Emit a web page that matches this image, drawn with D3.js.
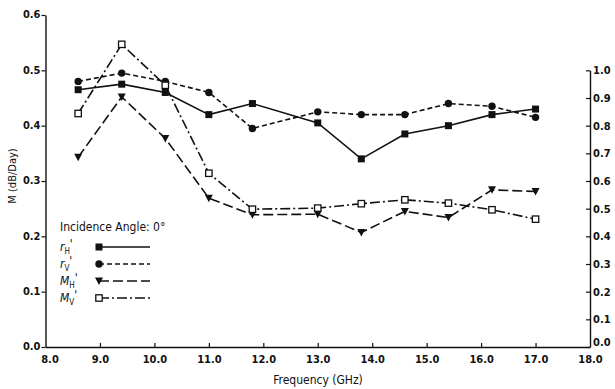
<!DOCTYPE html>
<html>
<head>
<meta charset="utf-8">
<script src="https://cdn.jsdelivr.net/npm/d3@7"></script>
<style>
  body { margin: 0; background: #fff; }
  svg text { fill: #111; }
  .tick text { font-family: "DejaVu Sans Condensed", "DejaVu Sans", sans-serif; font-weight: bold; font-size: 11px; }
</style>
</head>
<body>
<script>
// frequencies (GHz) where measurements were taken
var freq = [8.6, 9.4, 10.2, 11.0, 11.8, 13.0, 13.8, 14.6, 15.4, 16.2, 17.0];
// r' values, read on the right axis
var rH = [0.93, 0.95, 0.92, 0.84, 0.88, 0.81, 0.68, 0.77, 0.80, 0.84, 0.86];
var rV = [0.96, 0.99, 0.96, 0.92, 0.79, 0.85, 0.84, 0.84, 0.88, 0.87, 0.83];
// M' values (dB/Day), read on the left axis
var mH = [0.343, 0.452, 0.377, 0.269, 0.239, 0.240, 0.207, 0.245, 0.234, 0.284, 0.281];
var mV = [0.422, 0.547, 0.473, 0.314, 0.249, 0.251, 0.259, 0.266, 0.260, 0.248, 0.231];

var xTicks = [8, 9, 10, 11, 12, 13, 14, 15, 16, 17, 18];
var yTicks = [0, 0.1, 0.2, 0.3, 0.4, 0.5, 0.6];
var rTicks = [0, 0.1, 0.2, 0.3, 0.4, 0.5, 0.6, 0.7, 0.8, 0.9, 1.0];

var width = 615, height = 389;

var svg = d3.select("body").append("svg")
    .attr("width", width)
    .attr("height", height);

svg.append("rect").attr("width", width).attr("height", height).attr("fill", "#fff");

var x = d3.scaleLinear().domain([8, 18]).range([45.5, 590]);
var y = d3.scaleLinear().domain([0, 0.6]).range([347, 15]);
// right axis: 1.0 lines up with 0.5 on the left
var yR = d3.scaleLinear().domain([0, 1]).range([y(0), y(0.5)]);

var fmt = d3.format(".1f");

// left axis
var gl = svg.append("g").attr("transform", "translate(" + x(8) + ",0)")
    .call(d3.axisLeft(y).tickValues(yTicks).tickFormat(fmt).tickSize(4).tickSizeOuter(0).tickPadding(1));
gl.selectAll(".tick text").attr("dy", "0.25em");

// bottom axis
var gb = svg.append("g").attr("transform", "translate(0," + y(0) + ")")
    .call(d3.axisBottom(x).tickValues(xTicks).tickFormat(fmt).tickSize(-4).tickSizeOuter(0).tickPadding(8));
gb.selectAll(".tick text").filter(function(d) { return d === 8; }).attr("dx", "4");
gb.selectAll(".tick line").filter(function(d) { return d === 8 || d === 18; }).remove();

// right axis
var gr = svg.append("g").attr("transform", "translate(" + x(18) + ",0)")
    .call(d3.axisRight(yR).tickValues(rTicks).tickFormat(fmt).tickSize(-4).tickSizeOuter(0).tickPadding(3));
gr.selectAll(".tick text").filter(function(d) { return d === 0; }).attr("dy", "-0.1em");

svg.selectAll(".domain").attr("stroke", "#111").attr("stroke-width", 1.4);
svg.selectAll(".tick line").attr("stroke", "#111").attr("stroke-width", 1.2);

// axis titles
svg.append("text")
    .attr("x", 318).attr("y", 384)
    .attr("text-anchor", "middle")
    .style("font-family", "'DejaVu Sans Condensed', sans-serif")
    .style("font-size", "12px")
    .text("Frequency (GHz)");

svg.append("text")
    .attr("transform", "translate(16,176) rotate(-90)")
    .attr("text-anchor", "middle")
    .style("font-family", "'DejaVu Sans Condensed', sans-serif")
    .style("font-size", "11px")
    .text("M (dB/Day)");

var series = [
  { name: "r", sub: "H", values: rH, scale: yR, dash: null, marker: "square" },
  { name: "r", sub: "V", values: rV, scale: yR, dash: "5,3", marker: "circle" },
  { name: "M", sub: "H", values: mH, scale: y, dash: "10,4", marker: "triangle" },
  { name: "M", sub: "V", values: mV, scale: y, dash: "10,3,2,3", marker: "open" }
];

function drawMarker(g, kind) {
  if (kind === "square") {
    g.append("rect").attr("x", -3.5).attr("y", -3.5).attr("width", 7).attr("height", 7).attr("fill", "#111");
  } else if (kind === "circle") {
    g.append("circle").attr("r", 3.7).attr("fill", "#111");
  } else if (kind === "triangle") {
    g.append("path").attr("d", "M-4,-3.5L4,-3.5L0,4Z").attr("fill", "#111");
  } else {
    g.append("rect").attr("x", -3.2).attr("y", -3.2).attr("width", 6.4).attr("height", 6.4)
      .attr("fill", "#fff").attr("stroke", "#111").attr("stroke-width", 1.3);
  }
}

series.forEach(function(s) {
  var pts = freq.map(function(f, i) { return [f, s.values[i]]; });
  var line = d3.line()
      .x(function(d) { return x(d[0]); })
      .y(function(d) { return s.scale(d[1]); });
  svg.append("path")
      .datum(pts)
      .attr("d", line)
      .attr("fill", "none")
      .attr("stroke", "#111")
      .attr("stroke-width", 1.6)
      .attr("stroke-dasharray", s.dash);
  svg.selectAll(null).data(pts).enter().append("g")
      .attr("transform", function(d) { return "translate(" + x(d[0]) + "," + s.scale(d[1]) + ")"; })
      .each(function() { drawMarker(d3.select(this), s.marker); });
});

// legend
var legend = svg.append("g").style("font-family", "'DejaVu Sans Condensed', sans-serif");
legend.append("text")
    .attr("x", 60).attr("y", 231)
    .style("font-size", "12px")
    .text("Incidence Angle:  0\u00b0");

var rows = legend.selectAll("g.row").data(series).enter().append("g")
    .attr("transform", function(d, i) { return "translate(0," + (247 + i * 17) + ")"; });

var lbl = rows.append("text").attr("x", 60).attr("y", 4)
    .style("font-size", "12px").style("font-style", "italic");
lbl.append("tspan").text(function(d) { return d.name; });
lbl.append("tspan").attr("dy", 3).style("font-size", "8px").style("font-style", "normal").text(function(d) { return d.sub; });
lbl.append("tspan").attr("dy", -6).style("font-style", "normal").text("'");

rows.append("line")
    .attr("x1", 99).attr("x2", 150).attr("y1", 0).attr("y2", 0)
    .attr("stroke", "#111").attr("stroke-width", 1.6)
    .attr("stroke-dasharray", function(d) { return d.dash; });
rows.append("g").attr("transform", "translate(99,0)")
    .each(function(d) { drawMarker(d3.select(this), d.marker); });
</script>
</body>
</html>
